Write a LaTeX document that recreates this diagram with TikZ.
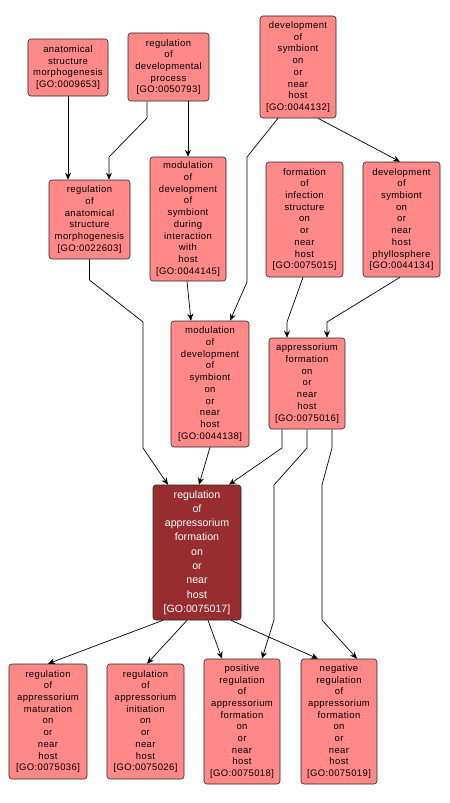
\documentclass[tikz,border=0pt]{standalone}
\usepackage{fontspec}
\setmainfont{Liberation Sans}
\newfontfamily\termfamily[LetterSpace=4]{Liberation Sans}
\usetikzlibrary{arrows.meta}
\definecolor{termpink}{RGB}{255,136,136}
\definecolor{focusred}{RGB}{152,45,48}
\tikzset{
  term/.style={draw=black!85, fill=termpink, rounded corners=3bp, line width=0.6bp,
    inner sep=0pt, align=center, font=\termfamily\fontsize{9.5bp}{11.7bp}\selectfont},
  focus/.style={term, fill=focusred, text=white, font=\fontsize{10.6bp}{14.3bp}\selectfont},
}
\begin{document}
\begin{tikzpicture}[x=1bp,y=-1bp]
      \fill[white] (0,0) rectangle (450,803);
      \useasboundingbox (0,0) rectangle (450,803);
      \path
        (68,67.5) node[term, minimum width=80bp, minimum height=57bp] (A9653)
          {anatomical\\structure\\morphogenesis\\{[GO:0009653]}}
        (168.5,67) node[term, minimum width=81bp, minimum height=68bp] (G50793)
          {regulation\\of\\developmental\\process\\{[GO:0050793]}}
        (298,67) node[term, minimum width=76bp, minimum height=102bp] (G44132)
          {development\\of\\symbiont\\on\\or\\near\\host\\{[GO:0044132]}}
        (89.5,219.5) node[term, minimum width=81bp, minimum height=79bp] (G22603)
          {regulation\\of\\anatomical\\structure\\morphogenesis\\{[GO:0022603]}}
        (188,219) node[term, minimum width=76bp, minimum height=124bp] (G44145)
          {modulation\\of\\development\\of\\symbiont\\during\\interaction\\with\\host\\{[GO:0044145]}}
        (304.5,219.5) node[term, minimum width=77bp, minimum height=115bp] (G75015)
          {formation\\of\\infection\\structure\\on\\or\\near\\host\\{[GO:0075015]}}
        (401.5,219.5) node[term, minimum width=77bp, minimum height=115bp] (G44134)
          {development\\of\\symbiont\\on\\or\\near\\host\\phyllosphere\\{[GO:0044134]}}
        (210,384) node[term, minimum width=78bp, minimum height=126bp] (G44138)
          {modulation\\of\\development\\of\\symbiont\\on\\or\\near\\host\\{[GO:0044138]}}
        (307,383.5) node[term, minimum width=76bp, minimum height=91bp] (G75016)
          {appressorium\\formation\\on\\or\\near\\host\\{[GO:0075016]}}
        (197,552.5) node[focus, minimum width=88bp, minimum height=135bp] (G75017)
          {regulation\\of\\appressorium\\formation\\on\\or\\near\\host\\{[GO:0075017]}}
        (48,721.5) node[term, minimum width=78bp, minimum height=115bp] (G75036)
          {regulation\\of\\appressorium\\maturation\\on\\or\\near\\host\\{[GO:0075036]}}
        (145.5,721.5) node[term, minimum width=77bp, minimum height=115bp] (G75026)
          {regulation\\of\\appressorium\\initiation\\on\\or\\near\\host\\{[GO:0075026]}}
        (242,721.5) node[term, minimum width=76bp, minimum height=125bp] (G75018)
          {positive\\regulation\\of\\appressorium\\formation\\on\\or\\near\\host\\{[GO:0075018]}}
        (339,721.5) node[term, minimum width=76bp, minimum height=125bp] (G75019)
          {negative\\regulation\\of\\appressorium\\formation\\on\\or\\near\\host\\{[GO:0075019]}};
      \begin{scope}[-{Stealth[length=7bp,width=6bp]}, line width=0.7bp]
        \draw (A9653) -- (A9653 |- G22603.north);
        \draw (G50793.south -| 147,0) -- (147,118) -- (109,157) -- (G22603.north -| 109,0);
        \draw (G44145 |- G50793.south) -- (G44145.north);
        \draw (G44132.south -| 278,0) -- (247,157) -- (247,282) -- (G44138.north -| 230,0);
        \draw (G44132.south -| 318,0) -- (G44134.north -| 400,0);
        \draw (G22603.south) -- (89.5,280) -- (143,322) -- (143,448) -- (G75017.north -| 168,0);
        \draw (G44145.south -| 187,0) -- (G44138.north -| 191,0);
        \draw (G75015.south -| 303,0) -- (287,322) -- (G75016.north -| 287,0);
        \draw (G44134.south -| 400,0) -- (327,322) -- (G75016.north -| 327,0);
        \draw (G44138.south) -- (G75017.north -| 199,0);
        \draw (G75016.south -| 282,0) -- (282,448) -- (G75017.north -| 229,0);
        \draw (G75016.south) -- (307,448) -- (274,485) -- (274,620) -- (G75018.north -| 262,0);
        \draw (G75016.south -| 332,0) -- (332,448) -- (322,485) -- (322,620) -- (G75019.north -| 357,0);
        \draw (G75017.south -| 163,0) -- (G75036.north);
        \draw (G75017.south -| 187,0) -- (G75026.north -| 147,0);
        \draw (G75017.south -| 208,0) -- (G75018.north -| 222,0);
        \draw (G75017.south -| 231,0) -- (G75019.north -| 318,0);
      \end{scope}
    \end{tikzpicture}
\end{document}
